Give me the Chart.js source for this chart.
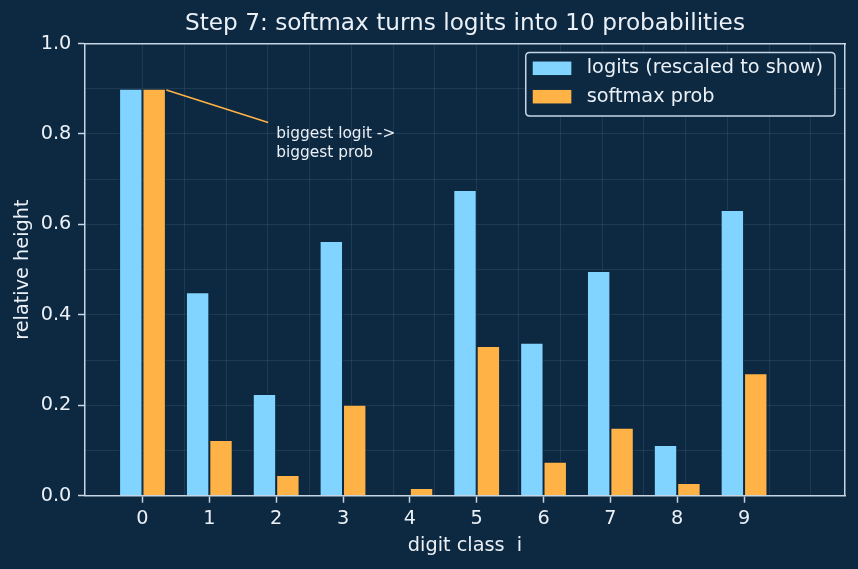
<!DOCTYPE html>
<html>
<head>
<meta charset="utf-8">
<script src="https://cdn.jsdelivr.net/npm/chart.js@4.4.1/dist/chart.umd.min.js"></script>
<style>
html,body{margin:0;padding:0;background:#0d2841;}
canvas{display:block;}
</style>
</head>
<body>
<canvas id="c" width="858" height="569"></canvas>
<script>
// ---- data ----
const categories = [0, 1, 2, 3, 4, 5, 6, 7, 8, 9];
const logitsRescaled = [0.900, 0.450, 0.225, 0.563, 0.000, 0.676, 0.338, 0.497, 0.112, 0.632];
const softmaxProb = [0.900, 0.123, 0.046, 0.201, 0.017, 0.331, 0.075, 0.150, 0.028, 0.271];
const seriesLabels = ['logits (rescaled to show)', 'softmax prob'];
const yTickValues = [0.0, 0.2, 0.4, 0.6, 0.8, 1.0];
const yGridValues = [0.0, 0.1, 0.2, 0.3, 0.4, 0.5, 0.6, 0.7, 0.8, 0.9, 1.0];
const xGridValues = [0, 0.625, 1.25, 1.875, 2.5, 3.125, 3.75, 4.375, 5, 5.625, 6.25, 6.875, 7.5, 8.125, 8.75, 9.375, 10];
const xRange = [-0.86, 10.51];
const yRange = [0, 1];
const titleText = 'Step 7: softmax turns logits into 10 probabilities';
const xLabel = 'digit class  i';
const yLabel = 'relative height';
const annotationLines = ['biggest logit ->', 'biggest prob'];
const annotationPoint = [0.3, 0.9];
const annotationTextPos = [2.0, 0.75];

// ---- style ----
const BG = '#0d2841';
const BLUE = '#80d4ff';
const ORANGE = '#ffb347';
const TEXT = '#eaf0f6';
const SPINE = '#c8d6e4';
const GRID = 'rgba(190,215,240,0.10)';
const FONT = "'DejaVu Sans', sans-serif";

Chart.defaults.font.family = FONT;
Chart.defaults.color = TEXT;

const bgPlugin = {
  id: 'bg',
  beforeDraw(chart) {
    const ctx = chart.ctx;
    ctx.save();
    ctx.fillStyle = BG;
    ctx.fillRect(0, 0, chart.width, chart.height);
    ctx.restore();
  }
};

const annotationPlugin = {
  id: 'annot',
  afterDatasetsDraw(chart) {
    const ctx = chart.ctx;
    const xs = chart.scales.x, ys = chart.scales.y;
    const ax = xs.getPixelForValue(annotationPoint[0]);
    const ay = ys.getPixelForValue(annotationPoint[1]);
    const tx = xs.getPixelForValue(annotationTextPos[0]);
    const ty = ys.getPixelForValue(annotationTextPos[1]);
    const ex = tx - 8, ey = ty - 34;
    const dx = ex - ax, dy = ey - ay, L = Math.hypot(dx, dy);
    const sx = ax + dx / L * 4, sy = ay + dy / L * 4;
    ctx.save();
    ctx.strokeStyle = ORANGE;
    ctx.lineWidth = 1.5;
    ctx.beginPath();
    ctx.moveTo(sx, sy);
    ctx.lineTo(ex, ey);
    ctx.stroke();
    ctx.font = '15.4px ' + FONT;
    ctx.fillStyle = TEXT;
    ctx.textAlign = 'left';
    ctx.textBaseline = 'alphabetic';
    const n = annotationLines.length;
    annotationLines.forEach((line, i) => {
      ctx.fillText(line, tx, ty - (n - 1 - i) * 18.5);
    });
    ctx.restore();
  }
};

const legendPlugin = {
  id: 'boxLegend',
  afterDraw(chart) {
    const ctx = chart.ctx;
    const area = chart.chartArea;
    const fs = 19.3;
    ctx.save();
    ctx.font = fs + 'px ' + FONT;
    const tw = Math.max(...seriesLabels.map(s => ctx.measureText(s).width));
    const padL = 7, padR = 12, handle = 38.6, gap = 15.4;
    const right = area.right - 10;
    const top = area.top + 9;
    const width = padL + handle + gap + tw + padR;
    const left = right - width;
    const height = 63.5;
    const r = 4;
    ctx.beginPath();
    ctx.moveTo(left + r, top);
    ctx.lineTo(right - r, top);
    ctx.quadraticCurveTo(right, top, right, top + r);
    ctx.lineTo(right, top + height - r);
    ctx.quadraticCurveTo(right, top + height, right - r, top + height);
    ctx.lineTo(left + r, top + height);
    ctx.quadraticCurveTo(left, top + height, left, top + height - r);
    ctx.lineTo(left, top + r);
    ctx.quadraticCurveTo(left, top, left + r, top);
    ctx.closePath();
    ctx.fillStyle = 'rgba(13,40,65,0.92)';
    ctx.fill();
    ctx.strokeStyle = SPINE;
    ctx.lineWidth = 1.5;
    ctx.stroke();
    const colors = [BLUE, ORANGE];
    const rows = [top + 15.8, top + 44.2];
    seriesLabels.forEach((lab, i) => {
      const cy = rows[i];
      ctx.fillStyle = colors[i];
      ctx.fillRect(left + padL, cy - 6.75, handle, 13.5);
      ctx.fillStyle = TEXT;
      ctx.textAlign = 'left';
      ctx.textBaseline = 'middle';
      ctx.fillText(lab, left + padL + handle + gap, cy);
    });
    ctx.restore();
  }
};

const toPoints = arr => categories.map((c, i) => ({ x: c, y: arr[i] }));

new Chart(document.getElementById('c'), {
  type: 'bar',
  data: {
    datasets: [
      {
        label: seriesLabels[0],
        data: toPoints(logitsRescaled),
        backgroundColor: BLUE,
        borderColor: BG,
        borderWidth: 1,
        categoryPercentage: 0.7,
        barPercentage: 1.0,
        xAxisID: 'x', yAxisID: 'y'
      },
      {
        label: seriesLabels[1],
        data: toPoints(softmaxProb),
        backgroundColor: ORANGE,
        borderColor: BG,
        borderWidth: 1,
        categoryPercentage: 0.7,
        barPercentage: 1.0,
        xAxisID: 'x', yAxisID: 'y'
      }
    ]
  },
  options: {
    responsive: false,
    animation: false,
    devicePixelRatio: 1,
    layout: { padding: 0 },
    plugins: {
      legend: { display: false },
      tooltip: { enabled: false },
      title: {
        display: true,
        text: titleText,
        color: TEXT,
        fullSize: false,
        font: { size: 23.2, weight: 'normal' },
        padding: { top: 9.8, bottom: 0 }
      }
    },
    scales: {
      x: {
        type: 'linear',
        position: 'bottom',
        min: xRange[0], max: xRange[1],
        offset: false,
        afterBuildTicks: s => { s.ticks = categories.map(v => ({ value: v })); },
        afterFit: s => { s.height = 73.3; },
        ticks: {
          color: TEXT, font: { size: 19.3 }, padding: 5.2,
          autoSkip: false, maxRotation: 0,
          callback: v => String(v)
        },
        grid: { drawOnChartArea: false, offset: false, drawTicks: true, tickLength: 7, tickColor: SPINE, tickWidth: 1.5 },
        border: { display: true, color: SPINE, width: 1.5 },
        title: { display: true, text: xLabel, color: TEXT, font: { size: 19.3 }, padding: { top: 0, bottom: 11.2 } }
      },
      x2: {
        type: 'linear',
        position: 'top',
        min: xRange[0], max: xRange[1],
        offset: false,
        afterBuildTicks: s => { s.ticks = xGridValues.map(v => ({ value: v })); },
        afterFit: s => { s.height = 5.86; },
        ticks: { display: false },
        grid: { color: GRID, lineWidth: 1, drawTicks: false, offset: false },
        border: { display: true, color: SPINE, width: 1.5 }
      },
      y: {
        type: 'linear',
        position: 'left',
        min: yRange[0], max: yRange[1],
        afterBuildTicks: s => { s.ticks = yTickValues.map(v => ({ value: v })); },
        afterFit: s => { s.width = 85; },
        ticks: { color: TEXT, font: { size: 19.3 }, padding: 6.7, callback: v => Number(v).toFixed(1) },
        grid: { drawOnChartArea: false, drawTicks: true, tickLength: 7, tickColor: SPINE, tickWidth: 1.5 },
        border: { display: true, color: SPINE, width: 1.5 },
        title: { display: true, text: yLabel, color: TEXT, font: { size: 19.3 }, padding: { top: 11.2, bottom: 0 } }
      },
      y2: {
        type: 'linear',
        position: 'right',
        min: yRange[0], max: yRange[1],
        afterBuildTicks: s => { s.ticks = yGridValues.map(v => ({ value: v })); },
        afterFit: s => { s.width = 13; },
        ticks: { display: false },
        grid: { color: GRID, lineWidth: 1, drawTicks: false },
        border: { display: true, color: SPINE, width: 1.5 }
      }
    }
  },
  plugins: [bgPlugin, annotationPlugin, legendPlugin]
});
</script>
</body>
</html>
